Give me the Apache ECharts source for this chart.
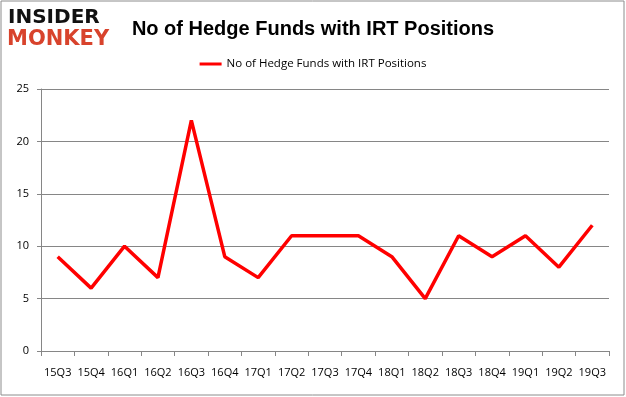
<!DOCTYPE html>
<html><head><meta charset="utf-8">
<script src="https://cdn.jsdelivr.net/npm/echarts@6/dist/echarts.min.js"></script>
<style>html,body{margin:0;padding:0;background:#fff}#c{width:626px;height:397px}</style>
</head><body><div id="c"></div>
<script>
const categories = ['15Q3','15Q4','16Q1','16Q2','16Q3','16Q4','17Q1','17Q2','17Q3','17Q4','18Q1','18Q2','18Q3','18Q4','19Q1','19Q2','19Q3'];
const seriesName = 'No of Hedge Funds with IRT Positions';
const values = [9,6,10,7,22,9,7,11,11,11,9,5,11,9,11,8,12];
const titleText = 'No of Hedge Funds with IRT Positions';

const chart = echarts.init(document.getElementById('c'), null, {renderer:'canvas'});
const font = '"Liberation Sans", Arial, sans-serif';
const font2 = '"Open Sans", sans-serif';
chart.setOption({
  animation:false,
  backgroundColor:'#fff',
  title:{text:titleText,left:'center',top:14,textStyle:{fontFamily:font,fontSize:20,fontWeight:'bold',color:'#000'}},
  legend:{top:53,left:'center',itemWidth:22,itemHeight:3,itemGap:6,icon:'rect',
    textStyle:{fontFamily:font2,fontSize:11.5,color:'#000'},data:[seriesName]},
  graphic:[
    {type:'rect',shape:{x:1,y:1,width:623,height:394},style:{fill:'none',stroke:'#8c8c8c',lineWidth:1},silent:true},
    {type:'text',left:8,top:8,style:{text:'INSIDER',fontFamily:'"DejaVu Sans", sans-serif',fontWeight:'bold',fontSize:20,fill:'#111'}},
    {type:'text',left:7,top:29,style:{text:'MONKEY',fontFamily:'"DejaVu Sans", sans-serif',fontWeight:'bold',fontSize:21,fill:'#d8432c'}}
  ],
  grid:{left:41,right:17,top:89,bottom:46,containLabel:false},
  xAxis:{type:'category',data:categories,boundaryGap:true,
    axisLine:{lineStyle:{color:'#868686',width:1}},
    axisTick:{show:true,length:5,interval:0,lineStyle:{color:'#868686'}},
    axisLabel:{fontFamily:font2,fontSize:11,color:'#000',margin:16,interval:0}},
  yAxis:{type:'value',min:0,max:25,interval:5,
    axisLine:{show:true,lineStyle:{color:'#868686'}},
    axisTick:{show:true,length:4,lineStyle:{color:'#868686'}},
    splitLine:{lineStyle:{color:'#868686',width:1}},
    axisLabel:{fontFamily:font2,fontSize:11,color:'#000',margin:12}},
  series:[{name:seriesName,type:'line',data:values,symbol:'none',
    lineStyle:{color:'#ff0000',width:3.5},itemStyle:{color:'#ff0000'}}]
});
</script></body></html>
